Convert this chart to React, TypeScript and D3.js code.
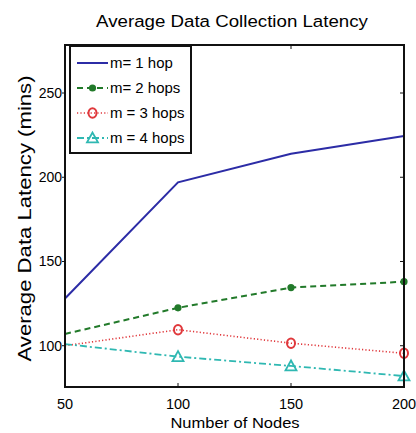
import React from "react";
import * as d3 from "d3";

// data
const nodes = [50, 100, 150, 200];
const hop1 = [128, 197, 214, 224.5];
const hop2 = [107, 122.5, 134.5, 138];
const hop3 = [100, 109.5, 101.5, 95.5];
const hop4 = [101, 93.5, 88, 82];
const xTicks = [50, 100, 150, 200];
const yTicks = [100, 150, 200, 250];
const legendLabels = ["m= 1 hop", "m= 2 hops", "m = 3 hops", "m = 4 hops"];

const W = 416;
const H = 433;
const left = 65, right = 404, top = 45, bottom = 387;
const font = "'Liberation Sans', Arial, sans-serif";

const x = d3.scaleLinear().domain([50, 200]).range([left, right]);
const y = d3.scaleLinear().domain([75.5, 278.5]).range([bottom, top]);

const series = [
  { vals: hop1, color: "#2c2ca6", dash: "", width: 2, marker: "none" },
  { vals: hop2, color: "#227a2a", dash: "6 4", width: 2, marker: "dot" },
  { vals: hop3, color: "#e0383c", dash: "1.2 2.2", width: 1.6, marker: "circle" },
  { vals: hop4, color: "#2fb8b2", dash: "7 3 2 3", width: 1.8, marker: "tri" },
];

const line = d3
  .line<number>()
  .x((_, i) => x(nodes[i]))
  .y((d) => y(d));

function Marker({ kind, cx, cy, color }: { kind: string; cx: number; cy: number; color: string }) {
  if (kind === "dot") return <circle cx={cx} cy={cy} r={3.6} fill={color} />;
  if (kind === "circle")
    return <ellipse cx={cx} cy={cy} rx={4} ry={4.8} fill="none" stroke={color} strokeWidth={2} />;
  if (kind === "tri") {
    const s = 5.5;
    return (
      <polygon
        points={`${cx},${cy - s} ${cx - s},${cy + s * 0.8} ${cx + s},${cy + s * 0.8}`}
        fill="none"
        stroke={color}
        strokeWidth={1.8}
      />
    );
  }
  return null;
}

const App = () => {
  return (
    <svg
      width={W}
      height={H}
      style={{ position: "absolute", left: 0, top: 0, background: "#fff" }}
      fontFamily={font}
    >
      {/* title */}
      <text transform="translate(232,27) scale(1.1,1)" fontSize={17} textAnchor="middle">
        Average Data Collection Latency
      </text>

      {/* lines */}
      <g>
        {series.map((s, k) => (
          <path
            key={k}
            d={line(s.vals) || ""}
            fill="none"
            stroke={s.color}
            strokeWidth={s.width}
            strokeDasharray={s.dash}
          />
        ))}
        {series.map((s, k) =>
          s.vals.map((v, i) =>
            i === 0 ? null : (
              <Marker key={`${k}-${i}`} kind={s.marker} cx={x(nodes[i])} cy={y(v)} color={s.color} />
            )
          )
        )}
      </g>

      {/* axes box */}
      <rect x={left} y={top} width={right - left} height={bottom - top} fill="none" stroke="#111" strokeWidth={2} />
      {xTicks.map((t) => (
        <g key={t}>
          <line x1={x(t)} x2={x(t)} y1={bottom} y2={bottom - 4} stroke="#111" />
          <line x1={x(t)} x2={x(t)} y1={top} y2={top + 4} stroke="#111" />
          <text x={x(t)} y={409} fontSize={14.5} textAnchor="middle">
            {t}
          </text>
        </g>
      ))}
      {yTicks.map((t) => (
        <g key={t}>
          <line x1={left} x2={left - 3} y1={y(t)} y2={y(t)} stroke="#111" />
          <line x1={right} x2={right - 4} y1={y(t)} y2={y(t)} stroke="#111" />
          <text x={62} y={y(t) + 5} fontSize={14} textAnchor="end">
            {t}
          </text>
        </g>
      ))}

      {/* axis labels */}
      <text transform="translate(235,428) scale(1.1,1)" fontSize={15} textAnchor="middle">
        Number of Nodes
      </text>
      <text transform="translate(31,218.5) rotate(-90) scale(1.23,1)" fontSize={18} textAnchor="middle">
        Average Data Latency (mins)
      </text>

      {/* legend */}
      <rect x={70} y={46} width={121} height={107} fill="#fff" stroke="#111" strokeWidth={2} />
      {series.map((s, k) => {
        const ly = 63 + k * 25;
        return (
          <g key={k}>
            <line
              x1={77}
              x2={108}
              y1={ly}
              y2={ly}
              stroke={s.color}
              strokeWidth={s.width}
              strokeDasharray={s.dash}
            />
            <Marker kind={s.marker} cx={92.5} cy={ly} color={s.color} />
            <text transform={`translate(110,${ly + 5}) scale(1.07,1)`} fontSize={14}>
              {legendLabels[k]}
            </text>
          </g>
        );
      })}
    </svg>
  );
};

export default App;
